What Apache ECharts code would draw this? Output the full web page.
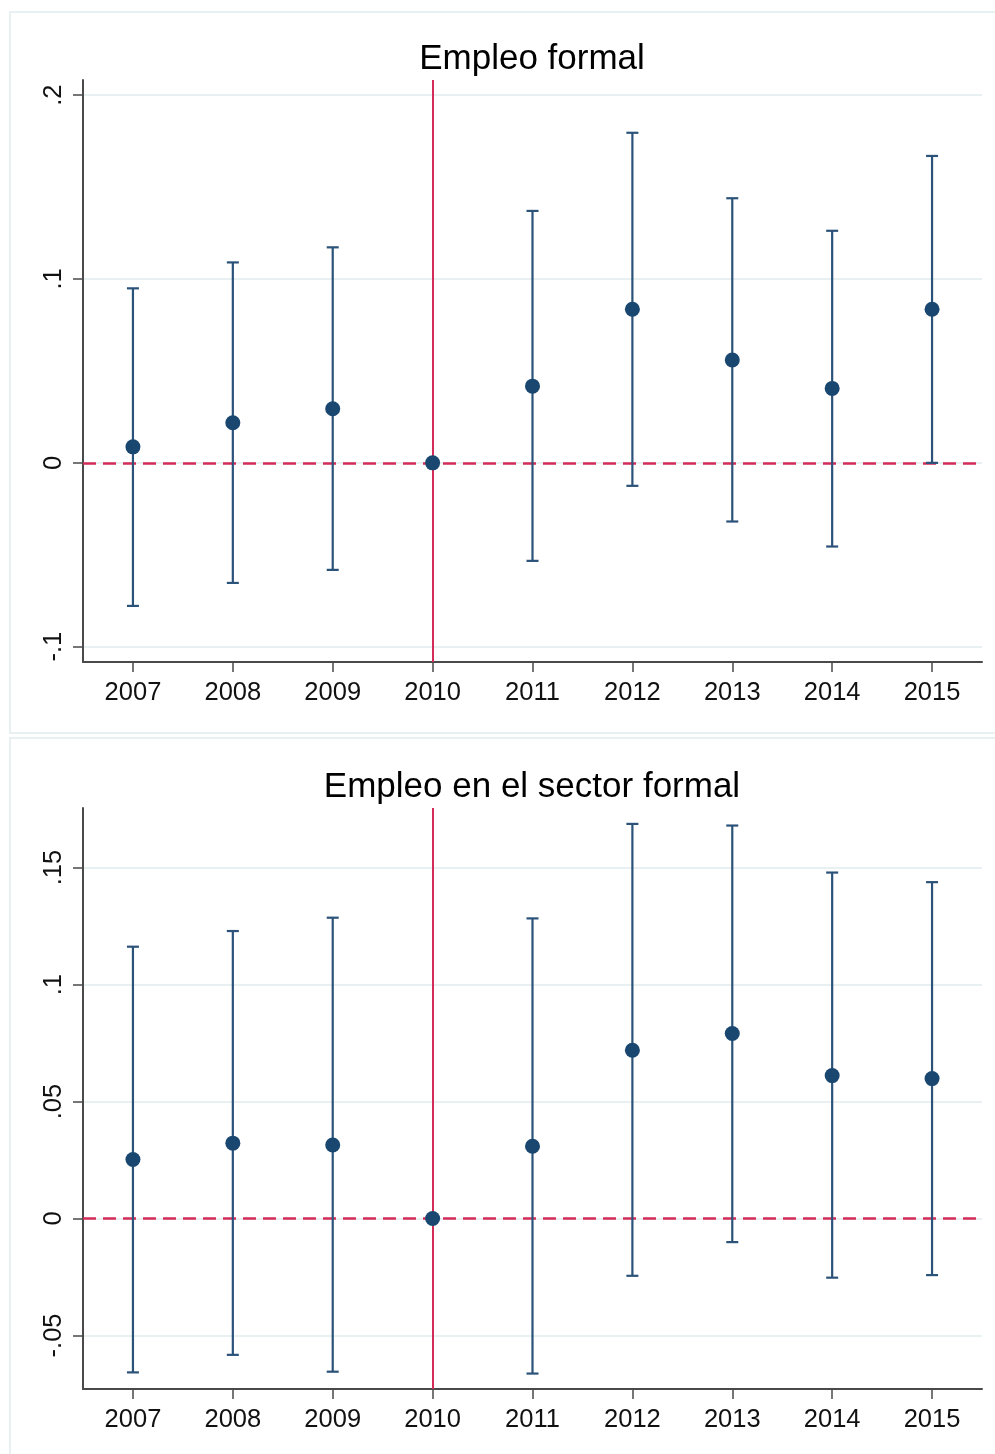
<!DOCTYPE html>
<html>
<head>
<meta charset="utf-8">
<script src="https://cdn.jsdelivr.net/npm/echarts@6/dist/echarts.min.js"></script>
<style>
html,body{margin:0;padding:0;background:#ffffff;}
#chart{width:995px;height:1454px;}
</style>
</head>
<body>
<div id="chart"></div>
<script>
// ---- data ----
const years = ['2007','2008','2009','2010','2011','2012','2013','2014','2015'];
const panelTitles = ['Empleo formal', 'Empleo en el sector formal'];

const formalCoef = [0.0087, 0.0218, 0.0294, 0, 0.0417, 0.0835, 0.0559, 0.0405, 0.0835];
const formalLow  = [-0.0778, -0.0653, -0.0582, null, -0.0533, -0.0125, -0.0319, -0.0455, 0.0];
const formalHigh = [0.0949, 0.1090, 0.1172, null, 0.1370, 0.1795, 0.1439, 0.1262, 0.1669];

const sectorCoef = [0.0252, 0.0322, 0.0314, 0, 0.0309, 0.0719, 0.0791, 0.0611, 0.0598];
const sectorLow  = [-0.0658, -0.0583, -0.0655, null, -0.0663, -0.0245, -0.0101, -0.0253, -0.0242];
const sectorHigh = [0.1162, 0.1229, 0.1286, null, 0.1283, 0.1687, 0.1680, 0.1479, 0.1438];

const formalTicks = [-0.1, 0, 0.1, 0.2];
const sectorTicks = [-0.05, 0, 0.05, 0.1, 0.15];
const formalRange = [-0.1083, 0.2082];
const sectorRange = [-0.0729, 0.1755];
const referenceYear = '2010';

// ---- styles ----
const NAVY = '#1a476f';
const BAR = '#2b5279';
const RED = '#d42c58';
const GRID = '#e8f0f1';
const AXIS = '#4a4a4a';
const FONT = '"Liberation Sans", Arial, sans-serif';

function fmt(v) {
  if (Math.abs(v) < 1e-9) return '0';
  const s = String(+v.toFixed(4));
  return s.replace(/^(-?)0\./, '$1.');
}

function barData(low, high) {
  const out = [];
  for (let i = 0; i < years.length; i++) {
    if (low[i] !== null && high[i] !== null) out.push([i, low[i], high[i]]);
  }
  return out;
}

function renderBar(params, api) {
  const x = api.value(0);
  const lo = api.coord([x, api.value(1)]);
  const hi = api.coord([x, api.value(2)]);
  const cap = 6;
  const style = { stroke: BAR, lineWidth: 2.2 };
  return {
    type: 'group',
    children: [
      { type: 'line', shape: { x1: lo[0], y1: lo[1], x2: hi[0], y2: hi[1] }, style: style },
      { type: 'line', shape: { x1: lo[0] - cap, y1: lo[1], x2: lo[0] + cap, y2: lo[1] }, style: style },
      { type: 'line', shape: { x1: hi[0] - cap, y1: hi[1], x2: hi[0] + cap, y2: hi[1] }, style: style }
    ]
  };
}

function xAxisFor(idx) {
  return {
    type: 'category',
    gridIndex: idx,
    data: years,
    boundaryGap: true,
    axisLine: { show: true, onZero: false, lineStyle: { color: AXIS, width: 2 } },
    axisTick: { show: true, alignWithLabel: true, length: 10, lineStyle: { color: AXIS, width: 1.5 } },
    axisLabel: { color: '#111', fontSize: 25.5, fontFamily: FONT, margin: 18 },
    splitLine: { show: false }
  };
}

function yAxisFor(idx, range, ticks) {
  return {
    type: 'value',
    gridIndex: idx,
    min: range[0],
    max: range[1],
    axisLine: { show: true, onZero: false, lineStyle: { color: AXIS, width: 2 } },
    axisTick: { show: true, length: 10, customValues: ticks, lineStyle: { color: AXIS, width: 1.5 } },
    axisLabel: { customValues: ticks, rotate: 90, margin: 16, color: '#111', fontSize: 25.5, fontFamily: FONT, formatter: fmt },
    splitLine: { show: true, lineStyle: { color: GRID, width: 2 } }
  };
}

function panelSeries(idx, coef, low, high) {
  return [
    {
      type: 'custom',
      xAxisIndex: idx,
      yAxisIndex: idx,
      renderItem: renderBar,
      data: barData(low, high),
      z: 3,
      silent: true,
      markLine: {
        silent: true,
        symbol: 'none',
        label: { show: false },
        z: 2,
        data: [
          { xAxis: referenceYear, lineStyle: { color: RED, width: 2, type: 'solid' } },
          { yAxis: 0, lineStyle: { color: RED, width: 2.5, type: [13, 7] } }
        ]
      }
    },
    {
      type: 'scatter',
      xAxisIndex: idx,
      yAxisIndex: idx,
      data: coef.map((v, i) => [i, v]),
      symbol: 'circle',
      symbolSize: 15,
      itemStyle: { color: NAVY, opacity: 1 },
      z: 5,
      silent: true
    }
  ];
}

const chart = echarts.init(document.getElementById('chart'), null, { renderer: 'canvas' });
chart.setOption({
  animation: false,
  backgroundColor: '#ffffff',
  title: [
    { text: panelTitles[0], left: 532, top: 42, padding: 0, textAlign: 'center',
      textStyle: { fontSize: 35, fontWeight: 'normal', color: '#000', fontFamily: FONT } },
    { text: panelTitles[1], left: 532, top: 770, padding: 0, textAlign: 'center',
      textStyle: { fontSize: 35, fontWeight: 'normal', color: '#000', fontFamily: FONT } }
  ],
  graphic: [
    { type: 'rect', silent: true, z: -1, shape: { x: 10, y: 12, width: 1000, height: 721 },
      style: { fill: 'none', stroke: GRID, lineWidth: 2 } },
    { type: 'rect', silent: true, z: -1, shape: { x: 10, y: 738, width: 1000, height: 740 },
      style: { fill: 'none', stroke: GRID, lineWidth: 2 } }
  ],
  grid: [
    { left: 83, top: 80, width: 899, height: 582 },
    { left: 83, top: 808, width: 899, height: 581 }
  ],
  xAxis: [xAxisFor(0), xAxisFor(1)],
  yAxis: [yAxisFor(0, formalRange, formalTicks), yAxisFor(1, sectorRange, sectorTicks)],
  series: [].concat(
    panelSeries(0, formalCoef, formalLow, formalHigh),
    panelSeries(1, sectorCoef, sectorLow, sectorHigh)
  )
});
</script>
</body>
</html>
